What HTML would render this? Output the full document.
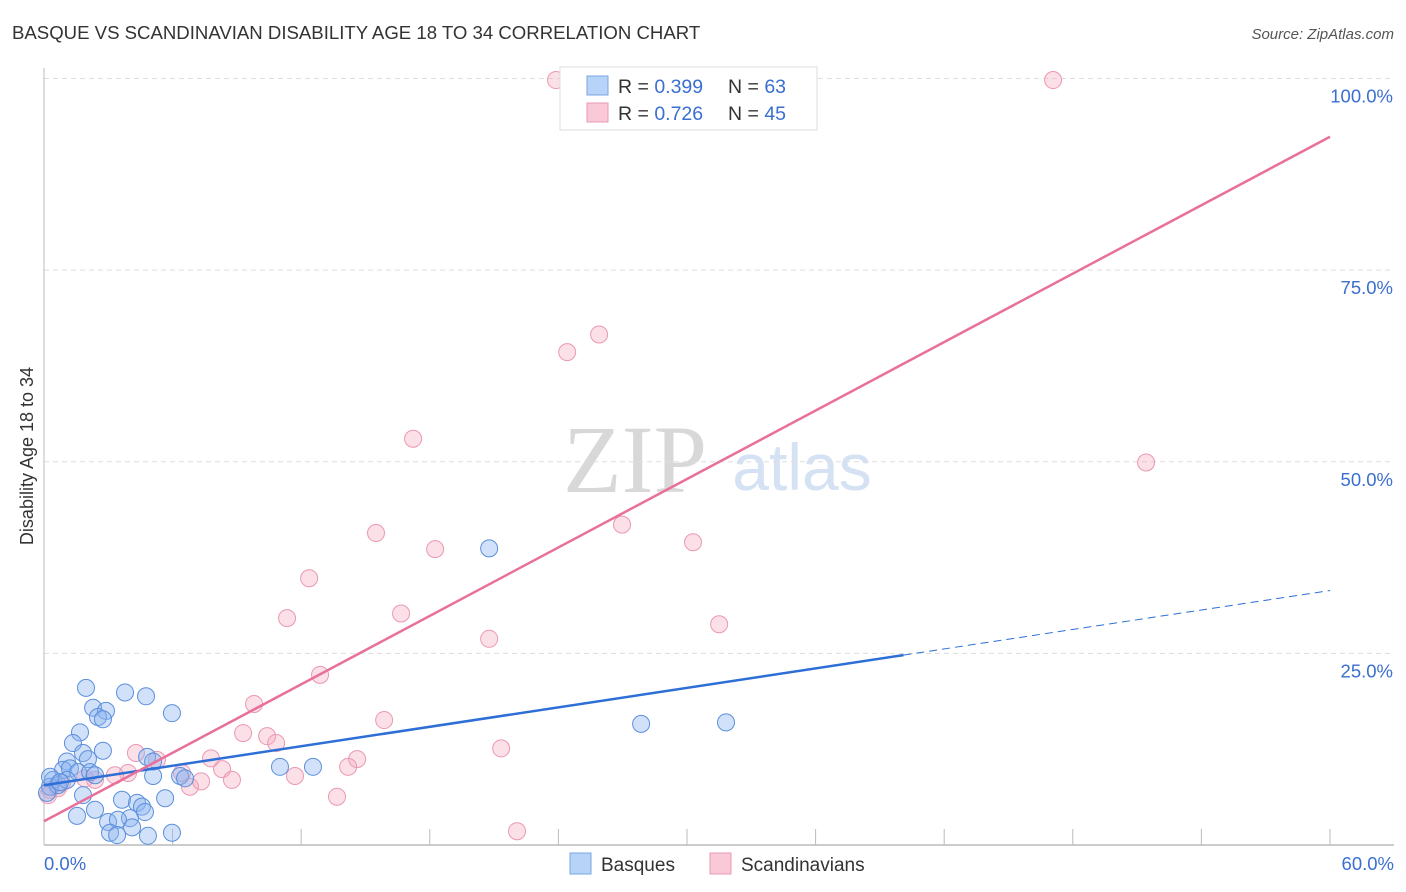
<!DOCTYPE html>
<html><head><meta charset="utf-8"><style>
body{margin:0;background:#fff;font-family:"Liberation Sans",sans-serif}
svg{display:block}
</style></head><body>
<svg id="chart" width="1406" height="892">
<text x="12" y="39" font-size="18.6" fill="#333">BASQUE VS SCANDINAVIAN DISABILITY AGE 18 TO 34 CORRELATION CHART</text>
<text x="1394" y="39" font-size="15" fill="#555" font-style="italic" text-anchor="end">Source: ZipAtlas.com</text>
<text x="635" y="492" font-size="96" fill="#d8d8d8" font-family="Liberation Serif,serif" text-anchor="middle">ZIP</text>
<text x="802" y="490" font-size="66" fill="#d4e2f4" text-anchor="middle">atlas</text>
<text transform="translate(33,456) rotate(-90)" font-size="18" fill="#333" text-anchor="middle">Disability Age 18 to 34</text>
<g id="grid"></g><g id="pts"></g><g id="lines"></g>
<g>
<rect x="560" y="67" width="257" height="63" fill="#fff" stroke="#ddd"/>
<rect x="587" y="76" width="21" height="19" fill="#b7d3f7" stroke="#7aa7e0"/>
<rect x="587" y="103" width="21" height="19" fill="#f9c9d7" stroke="#eb98b2"/>
<text x="618" y="93" font-size="19.5" fill="#333">R = <tspan fill="#3a6fd0">0.399</tspan></text>
<text x="728" y="93" font-size="19.5" fill="#333">N = <tspan fill="#3a6fd0">63</tspan></text>
<text x="618" y="120" font-size="19.5" fill="#333">R = <tspan fill="#3a6fd0">0.726</tspan></text>
<text x="728" y="120" font-size="19.5" fill="#333">N = <tspan fill="#3a6fd0">45</tspan></text>
</g>
<g>
<rect x="570" y="853" width="21" height="21" fill="#b7d3f7" stroke="#7aa7e0"/>
<text x="601" y="871" font-size="19" fill="#333">Basques</text>
<text x="741" y="871" font-size="19" fill="#333">Scandinavians</text>
<rect x="710" y="853" width="21" height="21" fill="#f9c9d7" stroke="#eb98b2"/>
</g>
</svg>
<script>
const yTicks=[25,50,75,100];
const yTickLabels=["25.0%","50.0%","75.0%","100.0%"];
const xTicks=[6,12,18,24,30,36,42,48,54,60];
const blueX=[1.96,3.78,4.76,2.29,2.89,2.52,2.75,5.97,1.68,1.35,2.75,1.82,1.07,2.05,4.81,5.09,0.89,1.21,1.59,2.15,2.38,0.42,0.28,0.65,1.07,1.82,5.09,6.35,6.58,11.01,12.55,3.64,5.65,2.38,1.54,4.34,4.57,4.71,4.01,2.99,3.45,4.11,3.08,3.41,4.85,5.97,0.14,0.28,20.77,27.86,31.82,0.75];
const blueY=[20.5,19.9,19.4,17.9,17.5,16.7,16.4,17.2,14.7,13.3,12.3,12.0,10.9,11.2,11.5,10.9,9.8,10.0,9.5,9.5,9.1,8.5,7.6,7.8,8.5,6.5,9.0,9.0,8.7,10.2,10.2,5.9,6.1,4.6,3.8,5.5,5.0,4.3,3.5,3.0,3.3,2.3,1.6,1.3,1.2,1.6,6.8,8.9,38.7,15.8,16.0,8.2];
const pinkX=[23.89,47.08,24.41,25.9,17.22,51.42,15.49,18.25,26.97,30.28,12.37,11.34,16.66,20.77,31.5,12.88,9.8,15.87,9.29,10.41,10.83,21.33,14.61,14.19,7.79,8.31,4.29,5.27,6.44,6.81,7.33,8.77,11.71,13.67,22.07,3.92,3.31,2.38,0.84,0.28,0.19,0.65,1.91];
const pinkY=[99.8,99.8,64.3,66.6,53.0,49.9,40.7,38.6,41.8,39.5,34.8,29.6,30.2,26.9,28.8,22.2,18.4,16.3,14.6,14.2,13.3,12.6,11.2,10.2,11.3,9.9,12.0,11.1,9.4,7.6,8.3,8.5,9.0,6.3,1.8,9.4,9.1,8.5,8.1,7.2,6.5,7.4,8.7];
const blueTrend=[7.8,33.2], blueSolidEnd=40.1;
const pinkTrend=[3.1,92.4];
const NS="http://www.w3.org/2000/svg";
const sx=v=>44+v*21.433, sy=v=>845-v*7.665;
function mk(tag,attrs,parent){const e=document.createElementNS(NS,tag);for(const k in attrs)e.setAttribute(k,attrs[k]);document.getElementById(parent).appendChild(e);return e;}
yTicks.forEach((t,i)=>{
 const g=mk('line',{x1:44,x2:1394,y1:sy(t),y2:sy(t),stroke:'#ddd','stroke-dasharray':'5,4'},'grid');
 
 
 const l=mk('text',{x:1393,y:sy(t)+24,'font-size':18.5,fill:'#3a6fd0','text-anchor':'end'},'grid');
 l.textContent=yTickLabels[i];
 
 
});
const ax=mk('line',{x1:44,x2:44,y1:68,y2:845,stroke:'#bbb'},'grid');


const bx=mk('line',{x1:44,x2:1394,y1:845,y2:845,stroke:'#bbb','stroke-width':1.5},'grid');


xTicks.forEach(t=>{
 const k=mk('line',{x1:sx(t),x2:sx(t),y1:829,y2:845,stroke:'#bbb'},'grid');
 
 
});
const x0=mk('text',{x:44,y:870,'font-size':18.5,fill:'#3a6fd0'},'grid');x0.textContent='0.0%';


const x1=mk('text',{x:1394,y:870,'font-size':18.5,fill:'#3a6fd0','text-anchor':'end'},'grid');x1.textContent='60.0%';


pinkX.forEach((x,i)=>{
 const c=mk('circle',{cx:sx(x),cy:sy(pinkY[i]),r:8.5,fill:'rgba(244,165,190,0.35)',stroke:'#eb98b2','stroke-width':1},'pts');
 
 
});
blueX.forEach((x,i)=>{
 const c=mk('circle',{cx:sx(x),cy:sy(blueY[i]),r:8.5,fill:'rgba(140,180,240,0.4)',stroke:'#5b8fdc','stroke-width':1},'pts');
 
 
});
const by=x=>blueTrend[0]+(blueTrend[1]-blueTrend[0])*x/60;
const b1=mk('line',{x1:sx(0),y1:sy(by(0)),x2:sx(blueSolidEnd),y2:sy(by(blueSolidEnd)),stroke:'#2d6fd6','stroke-width':2.5},'lines');


const b2=mk('line',{x1:sx(blueSolidEnd),y1:sy(by(blueSolidEnd)),x2:sx(60),y2:sy(by(60)),stroke:'#2d6fd6','stroke-width':1,'stroke-dasharray':'8,5'},'lines');


const p1=mk('line',{x1:sx(0),y1:sy(pinkTrend[0]),x2:sx(60),y2:sy(pinkTrend[1]),stroke:'#e8709a','stroke-width':2.5},'lines');


</script>
</body></html>
